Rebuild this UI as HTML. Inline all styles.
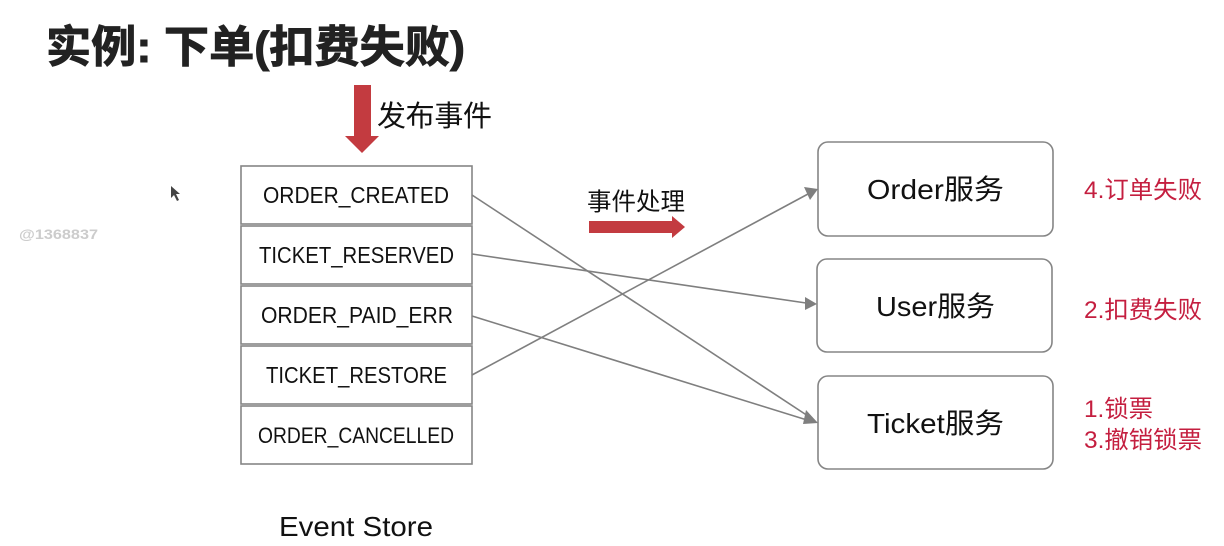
<!DOCTYPE html>
<html>
<head>
<meta charset="utf-8">
<style>
html,body{margin:0;padding:0;background:#fff;width:1224px;height:546px;overflow:hidden}
svg{display:block;filter:blur(0.35px)}
text{font-family:"Liberation Sans","Noto Sans CJK SC",sans-serif;fill:#111}
.ev{font-size:23px;text-anchor:start}
.sv{font-size:28px}
.red{font-size:24px;fill:#c41e3f}
</style>
</head>
<body>
<svg width="1224" height="546" viewBox="0 0 1224 546" xmlns="http://www.w3.org/2000/svg">
<rect width="1224" height="546" fill="#fff"/>
<text x="46" y="62" style="font-size:44px;font-weight:bold;fill:#222;stroke:#222;stroke-width:0.9" textLength="419" lengthAdjust="spacingAndGlyphs">实例: 下单(扣费失败)</text>

<rect x="354" y="85" width="17" height="51" fill="#c33b40"/>
<polygon points="345,136 379,136 362,153" fill="#c33b40"/>
<text x="377" y="126" style="font-size:29px" textLength="115">发布事件</text>

<polygon points="171,186 171,198 174,195 177,201 179,200 176,194 180,194" fill="#444"/>
<text x="19" y="239" style="font-size:14px;font-weight:bold;fill:#ccc" textLength="79" lengthAdjust="spacingAndGlyphs">@1368837</text>

<g fill="#fff" stroke="#858585" stroke-width="1.6">
<rect x="241" y="166" width="231" height="58"/>
<rect x="241" y="226" width="231" height="58"/>
<rect x="241" y="286" width="231" height="58"/>
<rect x="241" y="346" width="231" height="58"/>
<rect x="241" y="406" width="231" height="58"/>
<rect x="818" y="142" width="235" height="94" rx="10"/>
<rect x="817" y="259" width="235" height="93" rx="10"/>
<rect x="818" y="376" width="235" height="93" rx="10"/>
</g>

<text class="ev" x="263" y="203" textLength="186" lengthAdjust="spacingAndGlyphs">ORDER_CREATED</text>
<text class="ev" x="259" y="263" textLength="195" lengthAdjust="spacingAndGlyphs">TICKET_RESERVED</text>
<text class="ev" x="261" y="323" textLength="192" lengthAdjust="spacingAndGlyphs">ORDER_PAID_ERR</text>
<text class="ev" x="266" y="383" textLength="181" lengthAdjust="spacingAndGlyphs">TICKET_RESTORE</text>
<text class="ev" x="258" y="443" textLength="196" lengthAdjust="spacingAndGlyphs" style="font-size:22px">ORDER_CANCELLED</text>
<text x="279" y="536" style="font-size:28px" textLength="154" lengthAdjust="spacingAndGlyphs">Event Store</text>

<text x="587" y="210" style="font-size:24.5px" textLength="98">事件处理</text>
<rect x="589" y="221" width="83" height="12" fill="#c33b40"/>
<polygon points="672,216 685,227 672,238" fill="#c33b40"/>

<g stroke="#7f7f7f" stroke-width="1.6" fill="none">
<line x1="472" y1="195" x2="808" y2="416"/>
<line x1="472" y1="254" x2="806" y2="303"/>
<line x1="472" y1="316" x2="807" y2="420"/>
<line x1="472" y1="375" x2="808" y2="194"/>
</g>
<g fill="#7f7f7f">
<polygon points="818,189 804,187 810,200"/>
<polygon points="817,304 805,297 805,310"/>
<polygon points="818,423 806,410 803,424"/>
</g>

<text class="sv" x="867" y="199" textLength="137" lengthAdjust="spacingAndGlyphs">Order服务</text>
<text class="sv" x="876" y="316" textLength="119" lengthAdjust="spacingAndGlyphs">User服务</text>
<text class="sv" x="867" y="433" textLength="137" lengthAdjust="spacingAndGlyphs">Ticket服务</text>

<text class="red" x="1084" y="198" textLength="118" lengthAdjust="spacingAndGlyphs">4.订单失败</text>
<text class="red" x="1084" y="318" textLength="118" lengthAdjust="spacingAndGlyphs">2.扣费失败</text>
<text class="red" x="1084" y="417" textLength="69" lengthAdjust="spacingAndGlyphs">1.锁票</text>
<text class="red" x="1084" y="448" textLength="118" lengthAdjust="spacingAndGlyphs">3.撤销锁票</text>
</svg>
</body>
</html>
